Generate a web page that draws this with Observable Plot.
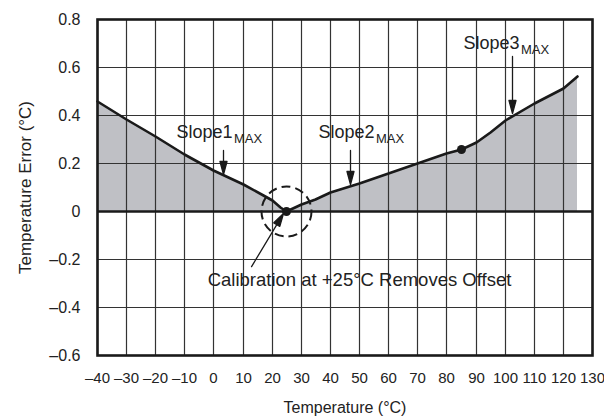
<!DOCTYPE html>
<html><head><meta charset="utf-8">
<script src="https://cdn.jsdelivr.net/npm/d3@7"></script>
<script src="https://cdn.jsdelivr.net/npm/@observablehq/plot@0.6"></script>
<style>body{margin:0;background:#fff;} svg{display:block}</style>
</head><body>
<script>
// Data
const temps  = [-40, -30, -20, -10, 0, 10, 17, 20, 23, 25, 30, 35, 40, 50, 60, 70, 80, 85, 90, 95, 100, 110, 120, 125];
const errors = [0.458, 0.385, 0.312, 0.238, 0.172, 0.112, 0.066, 0.044, 0.018, 0, 0.03, 0.052, 0.079, 0.118, 0.157, 0.199, 0.243, 0.26, 0.288, 0.33, 0.38, 0.448, 0.513, 0.562];
const xTicks = [-40, -30, -20, -10, 0, 10, 20, 30, 40, 50, 60, 70, 80, 90, 100, 110, 120, 130];
const yTicks = [-0.6, -0.4, -0.2, 0, 0.2, 0.4, 0.6, 0.8];
const markedTemps = [25, 85];

// Annotations (data coordinates)
const slopeLabels = ["Slope1", "Slope2", "Slope3"];
const slopeLabelX = [6.5, 55, 104.9];
const slopeLabelY = [0.309, 0.309, 0.681];
const arrowTipX = [3.4, 47, 102.4, 23.9];
const arrowTipY = [0.156, 0.114, 0.407, -0.01];
const arrowLength = [24, 34, 57, 62];
const arrowAngle = [180, 180, 180, 31];
const calibrationText = ["Calibration at +25°C Removes Offset"];
const calibrationX = [50];
const calibrationY = [-0.308];

const curve = temps.map((t, i) => ({t, e: errors[i]}));
const marked = curve.filter(d => markedTemps.includes(d.t));
const slopes = slopeLabels.map((s, i) => ({s, x: slopeLabelX[i], y: slopeLabelY[i]}));
const arrows = arrowTipX.map((x, i) => ({x, y: arrowTipY[i], l: arrowLength[i], r: arrowAngle[i]}));
const calib = calibrationText.map((s, i) => ({s, x: calibrationX[i], y: calibrationY[i]}));

const dash = s => s.replace("-", "\u2013");
const fmtX = d => dash(String(d));
const fmtY = d => dash(d === 0 ? "0" : d.toFixed(1));

const headW = 7, headH = 13;
const arrowShape = {
  draw(ctx, l) {
    ctx.moveTo(0, 0);
    ctx.lineTo(0, -l + headH);
    ctx.moveTo(-headW / 2, -l + headH);
    ctx.lineTo(0, -l);
    ctx.lineTo(headW / 2, -l + headH);
    ctx.closePath();
  }
};

const ink = "#1a1a1a";
const gridInk = "#333333";
const chart = Plot.plot({
  width: 604,
  height: 418,
  marginLeft: 97,
  marginRight: 12,
  marginTop: 19,
  marginBottom: 63,
  style: {fontFamily: "'Liberation Sans', Arial, Helvetica, sans-serif", fontSize: "16px", background: "white", color: "#222"},
  x: {domain: [-40, 130], round: true},
  y: {domain: [-0.6, 0.8], round: true},
  length: {type: "identity"},
  marks: [
    Plot.areaY(curve, {x: "t", y: "e", fill: "#bfc0c5"}),
    Plot.ruleX(xTicks, {x: d => d, stroke: gridInk, strokeOpacity: 1, strokeWidth: 1.2, ariaLabel: "x-grid"}),
    Plot.ruleY(yTicks, {y: d => d, stroke: gridInk, strokeOpacity: 1, strokeWidth: 1.2, ariaLabel: "y-grid"}),
    Plot.ruleY([0], {stroke: ink, strokeWidth: 2.6}),
    Plot.frame({stroke: ink, strokeWidth: 2.6}),
    Plot.line(curve, {x: "t", y: "e", stroke: ink, strokeWidth: 2.6, strokeLinejoin: "round"}),
    Plot.dot(marked, {x: "t", y: "e", r: 4.5, fill: ink, stroke: "none"}),
    Plot.dot(marked.filter(d => d.t === 25), {x: "t", y: "e", r: 25, fill: "none", stroke: ink, strokeWidth: 2, strokeDasharray: "9,5"}),
    Plot.vector(arrows, {x: "x", y: "y", length: "l", rotate: "r", anchor: "end", shape: arrowShape, stroke: ink, fill: ink, strokeWidth: 1.3}),
    Plot.text(slopes, {x: "x", y: "y", text: "s", textAnchor: "end", lineAnchor: "bottom", fontSize: 18, fill: "#222", ariaDescription: "box-slope"}),
    Plot.text(slopes, {x: "x", y: "y", text: () => "MAX", textAnchor: "start", lineAnchor: "bottom", fontSize: 13, dx: 1.5, dy: 5, fill: "#222", ariaDescription: "box-slope"}),
    Plot.text(calib, {x: "x", y: "y", text: "s", textAnchor: "middle", lineAnchor: "bottom", fontSize: 18.5, fill: "#222", ariaDescription: "box-cal"}),
    Plot.axisX({ticks: xTicks, tickSize: 0, tickPadding: 17, fontSize: 15, tickFormat: fmtX, label: null}),
    Plot.axisY({ticks: yTicks, tickSize: 0, tickPadding: 17, fontSize: 16, tickFormat: fmtY, label: null}),
    Plot.text(["Temperature (°C)"], {frameAnchor: "bottom", dy: 57, lineAnchor: "bottom", textAnchor: "middle", fontSize: 16, fill: "#222"}),
    Plot.text(["Temperature Error (°C)"], {frameAnchor: "left", dx: -67, rotate: -90, lineAnchor: "bottom", textAnchor: "middle", fontSize: 17, fill: "#222"})
  ]
});
document.body.append(chart);

// White boxes behind annotation labels (sized from the rendered text)
(function () {
  const sb = chart.getBoundingClientRect();
  const pad = 3;
  const boxes = [];
  ["box-slope", "box-cal"].forEach(key => {
    const unions = [];
    chart.querySelectorAll(`g[aria-description="${key}"]`).forEach(g => {
      g.querySelectorAll("text").forEach((t, i) => {
        const b = t.getBoundingClientRect();
        const u = unions[i] || {x1: Infinity, y1: Infinity, x2: -Infinity, y2: -Infinity};
        u.x1 = Math.min(u.x1, b.left - sb.left);
        u.y1 = Math.min(u.y1, b.top - sb.top);
        u.x2 = Math.max(u.x2, b.right - sb.left);
        u.y2 = Math.max(u.y2, b.bottom - sb.top);
        unions[i] = u;
      });
    });
    boxes.push(...unions);
  });
  const ns = "http://www.w3.org/2000/svg";
  const g = document.createElementNS(ns, "g");
  boxes.forEach(u => {
    const r = document.createElementNS(ns, "rect");
    r.setAttribute("x", u.x1 - pad);
    r.setAttribute("y", u.y1 - pad);
    r.setAttribute("width", u.x2 - u.x1 + 2 * pad);
    r.setAttribute("height", u.y2 - u.y1 + 2 * pad);
    r.setAttribute("fill", "white");
    g.append(r);
  });
  const grid = chart.querySelector('g[aria-label="y-grid"]');
  if (grid) grid.after(g);
})();
</script>
</body></html>
